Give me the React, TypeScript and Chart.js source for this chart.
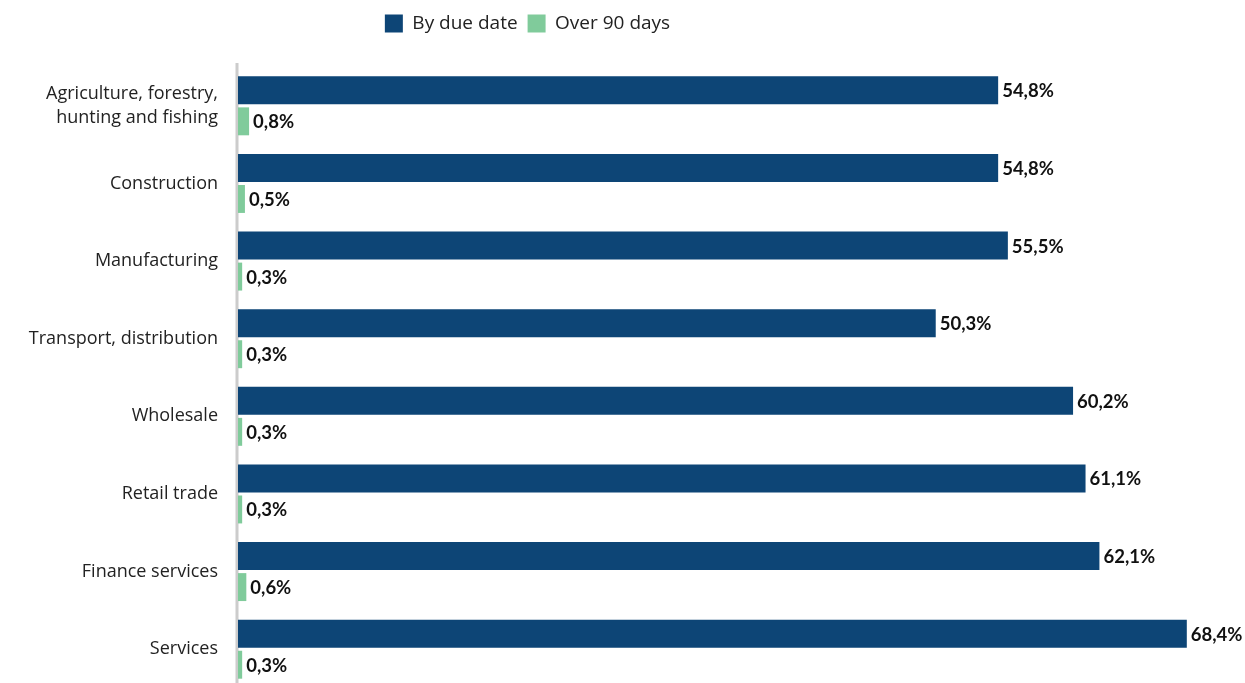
import React, { useEffect, useRef } from "react";
import { Chart, registerables } from "chart.js";

Chart.register(...registerables);

const categories: (string | string[])[] = [
  ["Agriculture, forestry,", "hunting and fishing"],
  "Construction",
  "Manufacturing",
  "Transport, distribution",
  "Wholesale",
  "Retail trade",
  "Finance services",
  "Services",
];
const byDueDate = [54.8, 54.8, 55.5, 50.3, 60.2, 61.1, 62.1, 68.4];
const over90Days = [0.8, 0.5, 0.3, 0.3, 0.3, 0.3, 0.6, 0.3];
const seriesNames = ["By due date", "Over 90 days"];
const seriesColors = ["#0D4576", "#80CB9B"];

const fmt = (v: number) => v.toFixed(1).replace(".", ",") + "%";

const valueLabels = {
  id: "valueLabels",
  afterDatasetsDraw(chart: any) {
    const ctx = chart.ctx;
    ctx.save();
    ctx.font = "bold 18.5px Lato";
    ctx.fillStyle = "#111111";
    ctx.textBaseline = "middle";
    ctx.textAlign = "left";
    chart.data.datasets.forEach((ds: any, di: number) => {
      const meta = chart.getDatasetMeta(di);
      meta.data.forEach((el: any, i: number) => {
        ctx.fillText(fmt(ds.data[i]), el.x + 4, el.y + 1);
      });
    });
    ctx.restore();
  },
};

const legendShift = {
  id: "legendShift",
  beforeDraw(chart: any) {
    const lg = chart.legend;
    if (!lg) return;
    const h = lg.bottom - lg.top;
    const w = lg.right - lg.left;
    if (lg._fixed !== lg.left) {
      lg.left = -77;
      lg.right = lg.left + w;
      lg.top = 4;
      lg.bottom = 4 + h;
      lg._fixed = lg.left;
    }
  },
};

const axisLine = {
  id: "axisLine",
  beforeDatasetsDraw(chart: any) {
    const { ctx, chartArea } = chart;
    ctx.save();
    ctx.strokeStyle = "#cccccc";
    ctx.lineWidth = 3;
    ctx.beginPath();
    ctx.moveTo(chartArea.left - 1, chartArea.top - 4);
    ctx.lineTo(chartArea.left - 1, chartArea.bottom);
    ctx.stroke();
    ctx.restore();
  },
};

export default function App() {
  const ref = useRef<HTMLCanvasElement>(null);
  useEffect(() => {
    const chart = new Chart(ref.current!, {
      type: "bar",
      data: {
        labels: categories,
        datasets: [
          { label: seriesNames[0], data: byDueDate, backgroundColor: seriesColors[0] },
          { label: seriesNames[1], data: over90Days, backgroundColor: seriesColors[1] },
        ],
      },
      options: {
        indexAxis: "y",
        animation: false,
        responsive: true,
        maintainAspectRatio: false,
        layout: { padding: { top: 3, right: 36, bottom: 0, left: 0 } },
        datasets: { bar: { barPercentage: 0.9, categoryPercentage: 0.8 } },
        plugins: {
          legend: {
            position: "top",
            labels: {
              boxWidth: 18,
              boxHeight: 18,
              padding: 10,
              color: "#222",
              font: { family: "'Open Sans'", size: 19 },
            },
          },
          tooltip: { enabled: false },
        },
        scales: {
          x: { display: false, min: 0, max: 70 },
          y: {
            afterFit: (s: any) => {
              s.width = 238;
              s.paddingTop = 67;
              s.paddingBottom = 0;
            },
            grid: { display: false },
            border: { display: false },
            ticks: {
              padding: 12,
              color: "#222",
              font: { family: "'Open Sans'", size: 18, lineHeight: 1.3 },
            },
          },
        },
      },
      plugins: [valueLabels, legendShift, axisLine],
    });
    return () => chart.destroy();
  }, []);
  return (
    <div style={{ position: "fixed", top: 0, left: 0, width: 1245, height: 683, overflow: "hidden", background: "#fff" }}>
      <div style={{ position: "relative", width: 1245, height: 688 }}>
        <canvas ref={ref} />
      </div>
    </div>
  );
}
